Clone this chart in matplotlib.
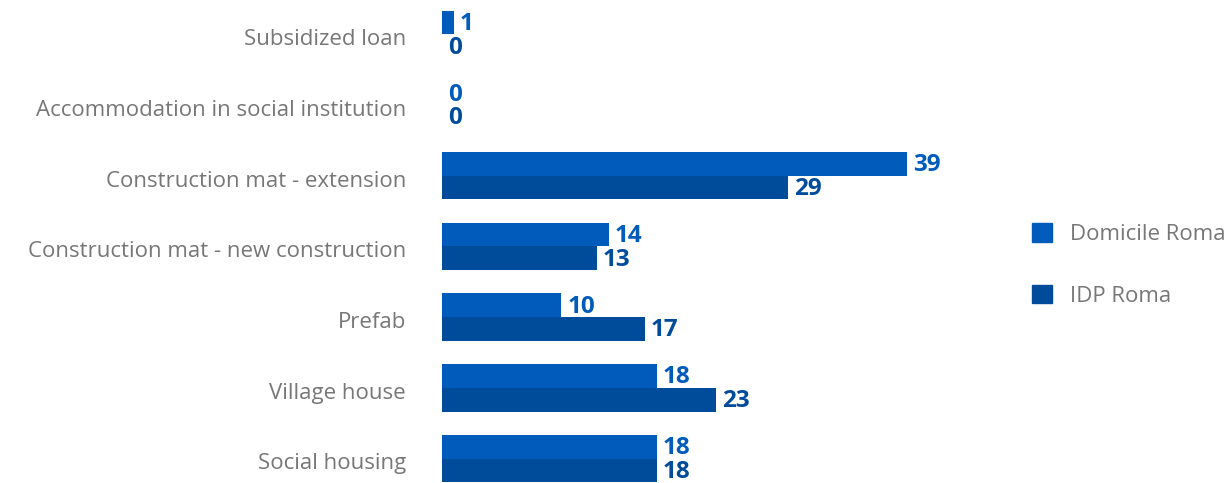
import matplotlib
matplotlib.use("Agg")
import matplotlib.pyplot as plt
import matplotlib.transforms as mtransforms
from matplotlib.patches import Patch

categories = ["Social housing", "Village house", "Prefab", "Construction mat - new construction",
              "Construction mat - extension", "Accommodation in social institution", "Subsidized loan"]
domicile = [18, 18, 10, 14, 39, 0, 1]
idp = [18, 23, 17, 13, 29, 0, 0]
series_names = ["Domicile Roma", "IDP Roma"]
colors = ["#005BBB", "#004C9A"]

plt.rcParams['font.family'] = ['Open Sans', 'DejaVu Sans']
fig = plt.figure(figsize=(12.31, 4.83), dpi=100)
ax = fig.add_axes([442/1231, 0, (1000-442)/1231, 1])
h = 0.335
y = list(range(len(categories)))
b1 = ax.barh([v + h/2 for v in y], domicile, height=h, color=colors[0])
b2 = ax.barh([v - h/2 for v in y], idp, height=h, color=colors[1])
for bars, vals, c in [(b1, domicile, colors[0]), (b2, idp, colors[1])]:
    for bar, v in zip(bars, vals):
        ax.text(bar.get_width() + 0.5, bar.get_y() + bar.get_height()/2 - 0.02, str(v),
                va='center', ha='left', fontsize=17.5, fontweight='bold', color=c)
ax.set_xlim(0, (1000-442)/11.92)
ax.set_ylim(-24.5/70.67, (483-24.5)/70.67)
ax.set_yticks(y)
ax.set_yticklabels(categories, fontsize=16, color="#777777")
ax.tick_params(axis='y', length=0, pad=26)
offset = mtransforms.ScaledTranslation(0, -2/72, fig.dpi_scale_trans)
for lbl in ax.get_yticklabels():
    lbl.set_transform(lbl.get_transform() + offset)
ax.set_xticks([])
for s in ax.spines.values():
    s.set_visible(False)
handles = [Patch(color=colors[0]), Patch(color=colors[1])]
fig.legend(handles, series_names, loc='center left', bbox_to_anchor=(1012/1231, 1 - 265/483),
           frameon=False, fontsize=16, labelcolor="#777777", handlelength=0.9, handleheight=0.9,
           labelspacing=1.8, handletextpad=0.8)
fig.savefig("out.png", dpi=100)
